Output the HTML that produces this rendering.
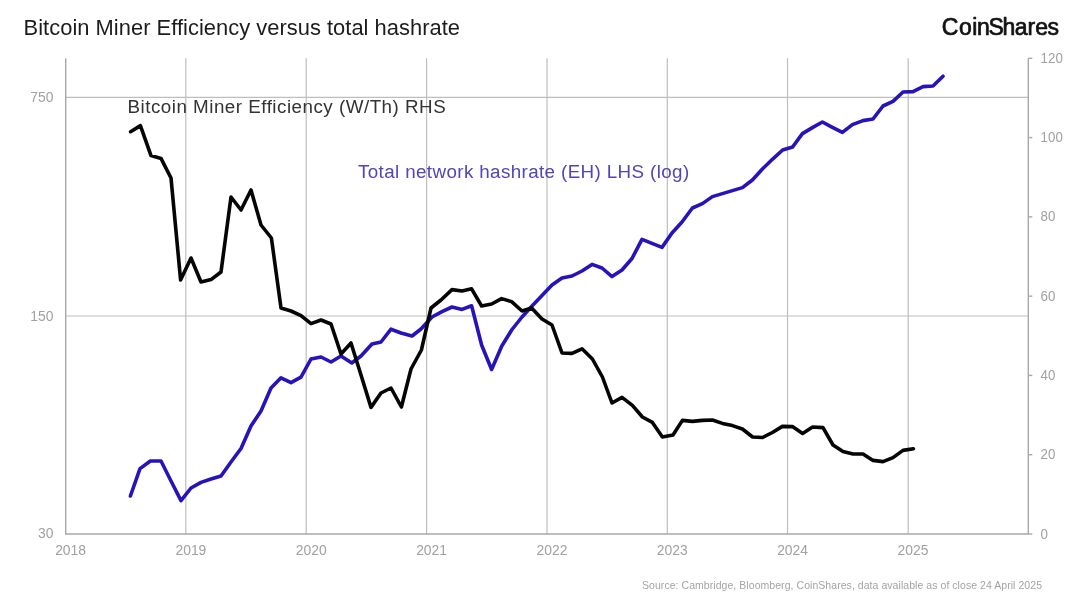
<!DOCTYPE html>
<html lang="en"><head><meta charset="utf-8"><title>Bitcoin Miner Efficiency versus total hashrate</title>
<style>html,body{margin:0;padding:0;background:#fff;}body{width:1080px;height:600px;overflow:hidden;}svg{display:block;}</style>
</head><body>
<svg width="1080" height="600" viewBox="0 0 1080 600">
<g stroke="#bebebe" stroke-width="1.2" fill="none">
<line x1="185.8" y1="58.3" x2="185.8" y2="534.0"/>
<line x1="306.2" y1="58.3" x2="306.2" y2="534.0"/>
<line x1="426.6" y1="58.3" x2="426.6" y2="534.0"/>
<line x1="547.0" y1="58.3" x2="547.0" y2="534.0"/>
<line x1="667.3" y1="58.3" x2="667.3" y2="534.0"/>
<line x1="787.5" y1="58.3" x2="787.5" y2="534.0"/>
<line x1="908.2" y1="58.3" x2="908.2" y2="534.0"/>
<line x1="65.7" y1="97.4" x2="1028.3" y2="97.4"/>
<line x1="65.7" y1="316.0" x2="1028.3" y2="316.0"/>
</g>
<g stroke="#a9a9a9" stroke-width="1.4" fill="none">
<polyline points="65.7,58.3 65.7,534.0 1028.3,534.0 1028.3,58.3"/>
<line x1="1028.3" y1="58.30" x2="1032.3" y2="58.30"/>
<line x1="1028.3" y1="137.58" x2="1032.3" y2="137.58"/>
<line x1="1028.3" y1="216.87" x2="1032.3" y2="216.87"/>
<line x1="1028.3" y1="296.15" x2="1032.3" y2="296.15"/>
<line x1="1028.3" y1="375.43" x2="1032.3" y2="375.43"/>
<line x1="1028.3" y1="454.72" x2="1032.3" y2="454.72"/>
<line x1="1028.3" y1="534.00" x2="1032.3" y2="534.00"/>
</g>
<polyline points="130.4,496 140,468.6 150.4,461 161,461 171,481 181,500.6 191,488 201,482.4 211,479 221,476 231,462 241,448.5 251,426 261,411 271,388 281,377.8 291,382.7 301,377.2 311,359 321,357 331,362 341,356 351.8,363 361,356 372,344 381,342 391,329.2 401,333 412,336 421,329 432,317 442,311.6 452,307 462,309.4 471.6,305.8 481.6,345 491.6,369.5 501.8,346 512,329.5 522,317 532,306 542,295.6 552,285 562,278 572,276 582,271 592,264.4 602,268 612,276.6 622,270 632,258.5 642,239.4 652,243.4 662,247.4 672,233 682,222 692.4,208 702.4,203.6 712.4,196.6 722.4,193.6 732.4,190.6 742.4,187.6 752.4,180 762.4,169 772.4,159.3 782.6,150 792.6,147 802.4,133.6 812.4,127.6 822.4,122 832.4,127.4 842.4,132.4 852.4,124.6 863,120.6 873,119 883,106 893,101.4 903,92 913,91.6 923,86.6 933,86 943,76.2" fill="none" stroke="#2613ba" stroke-width="3.6" stroke-linejoin="round" stroke-linecap="round"/>
<polyline points="130.6,131.7 140.4,125.6 151,155.6 161,158.4 171,178 180.6,280 191,258 201,282 211,279.6 221,272 231,197 241,210 251,190 261,225 271.4,238 281,308 291,311 301,315.6 311,323.6 321,320 331,324 341,354 351,343 361,375 371,407.4 381,393 391,388 401.4,407 411,369 421.4,350 431,308 441,300 452,289.6 462,291 471.6,288.8 481.6,306 491.6,304 501.6,298.6 511.6,301.6 522,311 531.6,308 542,319 552,325 562,353 572,353.4 582,348.8 592.4,359 602.4,377 612,403 622,397.4 632.4,405.4 642.4,417 652.4,422.4 662.4,437 673,435 682.4,420.4 692.4,421.4 702.4,420.4 712.4,420 722.4,423.4 732.4,425.6 742.4,429 752.6,437 762.6,437.5 772.4,432.5 782.4,426.4 792.4,426.6 802.6,433.4 812.6,427 823,427.6 833,445 843,451.6 853,454 863,454 873,460.4 883,461.6 893,457.6 903,450.4 913.4,448.7" fill="none" stroke="#050505" stroke-width="3.6" stroke-linejoin="round" stroke-linecap="round"/>
<g font-family="'Liberation Sans', sans-serif">
<text x="23.6" y="34.8" font-size="21.9" fill="#1c1c1c" textLength="436.4" lengthAdjust="spacing">Bitcoin Miner Efficiency versus total hashrate</text>
<text x="941.8 958.9 972.3 977.0 988.6 1002.4 1014.8 1027.6 1035.3 1047.6" y="35.3" font-size="23.0" fill="#111" stroke="#111" stroke-width="0.7" stroke-linejoin="round">CoinShares</text>
<text x="127.5" y="113.4" font-size="18.8" fill="#333" textLength="318.2" lengthAdjust="spacing">Bitcoin Miner Efficiency (W/Th) RHS</text>
<text x="358" y="178.4" font-size="18.8" fill="#5145b8" textLength="331.2" lengthAdjust="spacing">Total network hashrate (EH) LHS (log)</text>
<g font-size="13.9" fill="#a1a1a1">
<text x="53.4" y="102.4" text-anchor="end">750</text>
<text x="53.4" y="321.0" text-anchor="end">150</text>
<text x="53.4" y="538.4" text-anchor="end">30</text>
<text x="1040.6" y="62.8" textLength="22.2" lengthAdjust="spacingAndGlyphs">120</text>
<text x="1040.6" y="142.1" textLength="22.2" lengthAdjust="spacingAndGlyphs">100</text>
<text x="1040.6" y="221.4" textLength="14.8" lengthAdjust="spacingAndGlyphs">80</text>
<text x="1040.6" y="300.6" textLength="14.8" lengthAdjust="spacingAndGlyphs">60</text>
<text x="1040.6" y="379.9" textLength="14.8" lengthAdjust="spacingAndGlyphs">40</text>
<text x="1040.6" y="459.2" textLength="14.8" lengthAdjust="spacingAndGlyphs">20</text>
<text x="1040.6" y="538.5" textLength="7.4" lengthAdjust="spacingAndGlyphs">0</text>
<text x="70.6" y="555" text-anchor="middle">2018</text>
<text x="190.9" y="555" text-anchor="middle">2019</text>
<text x="311.3" y="555" text-anchor="middle">2020</text>
<text x="431.6" y="555" text-anchor="middle">2021</text>
<text x="552.0" y="555" text-anchor="middle">2022</text>
<text x="672.3" y="555" text-anchor="middle">2023</text>
<text x="792.6" y="555" text-anchor="middle">2024</text>
<text x="913.0" y="555" text-anchor="middle">2025</text>
</g>
<text x="1042" y="588.7" font-size="10.5" fill="#a4a4a4" text-anchor="end" textLength="400" lengthAdjust="spacing">Source: Cambridge, Bloomberg, CoinShares, data available as of close 24 April 2025</text>
</g>
</svg>
</body></html>
